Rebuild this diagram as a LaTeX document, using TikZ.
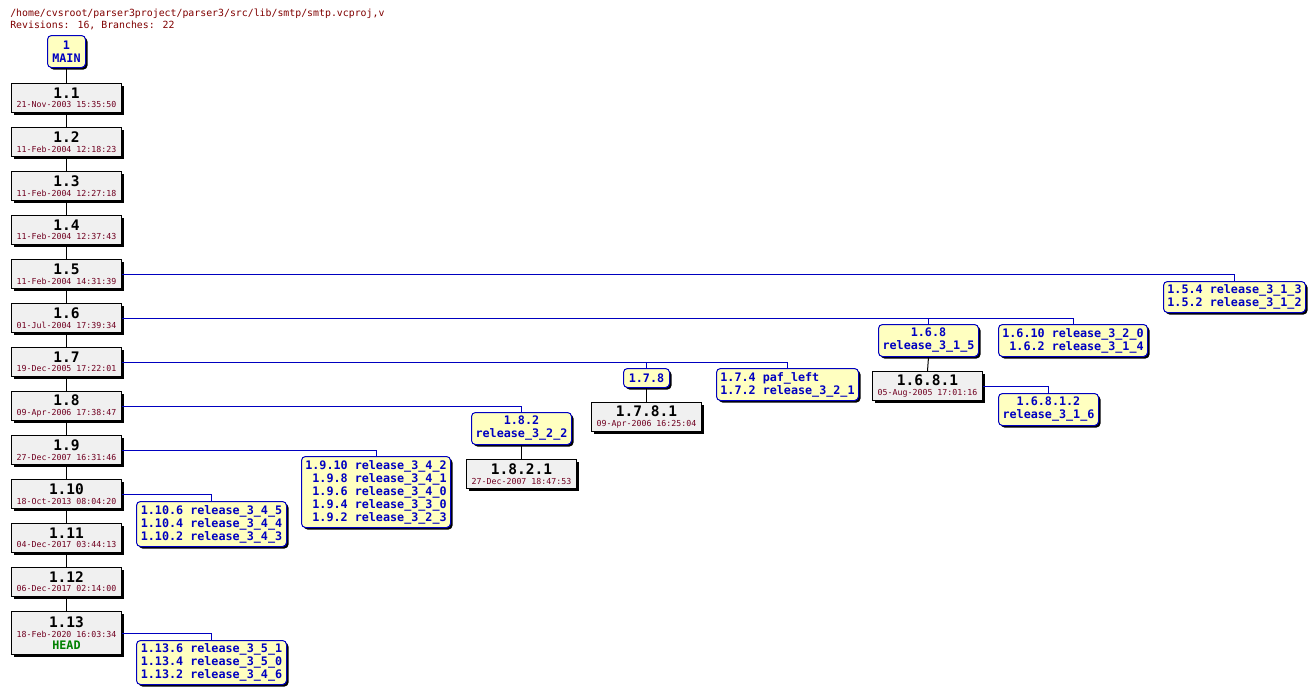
\documentclass[tikz,border=0pt]{standalone}
\usepackage{fontspec}
\setmonofont{DejaVu Sans Mono}
\usetikzlibrary{shadows}
\definecolor{revfill}{HTML}{F0F0F0}
\definecolor{tagfill}{HTML}{FFFFC0}
\definecolor{tagblue}{HTML}{0000C0}
\definecolor{datecol}{HTML}{700020}
\definecolor{titlecol}{HTML}{800000}
\definecolor{headgreen}{HTML}{008000}
\newfontfamily\dvmono{DejaVu Sans Mono}
\newfontfamily\dvmonob{DejaVu Sans Mono Bold}
\newcommand\numf{\dvmonob\fontsize{10.9}{12}\selectfont}
\newcommand\datef{\dvmono\fontsize{6.2}{7}\selectfont}
\newcommand\tagf{\dvmonob\fontsize{8.8}{9.75}\selectfont}
\newcommand\titf{\dvmono\fontsize{7.4}{9}\selectfont}
\newcommand\revtxt[2]{\vbox{\offinterlineskip\halign{\hfil##\hfil\cr{\numf #1}\cr\noalign{\kern2.3pt}{\datef\color{datecol}#2}\cr}}}
\newcommand\headtxt[2]{\vbox{\offinterlineskip\halign{\hfil##\hfil\cr{\numf #1}\cr\noalign{\kern2.3pt}{\datef\color{datecol}#2}\cr\noalign{\kern2.6pt}{\tagf\color{headgreen}HEAD}\cr}}}
\tikzset{
  shad/.style={drop shadow={shadow xshift=1.5pt,shadow yshift=-1.5pt,fill=black,opacity=1}},
  rev/.style={draw=black,line width=0.75pt,fill=revfill,inner sep=0pt,anchor=north west,
    minimum width=82.5pt,minimum height=21.75pt,shad},
  tag/.style={draw=tagblue,line width=0.75pt,fill=tagfill,rounded corners=3pt,inner sep=0pt,
    anchor=north west,font=\tagf,text=tagblue,shad},
  trunk/.style={draw=black,line width=0.75pt},
  br/.style={draw=tagblue,line width=0.75pt},
  tit/.style={anchor=base west,inner sep=0pt,font=\titf,text=titlecol}
}
\begin{document}
\begin{tikzpicture}[x=0.75pt,y=-0.75pt]
\fill[white] (0,0) rectangle (1315,694);
\useasboundingbox (0,0) rectangle (1315,694);
\node[tit] (t1) at (10,16.5) {/home/cvsroot/parser3project/parser3/src/lib/smtp/smtp.vcproj,v};
\node[tit] (t2) at (10,28.5) {Revisions: 16, Branches: 22};
\node[tag,align=center,minimum width=28.5pt,minimum height=24pt] (main) at (47,35) {1\\MAIN};
\node[rev] (r1) at (11,83) {\revtxt{1.1}{21-Nov-2003 15:35:50}};
\node[rev] (r2) at (11,127) {\revtxt{1.2}{11-Feb-2004 12:18:23}};
\node[rev] (r3) at (11,171) {\revtxt{1.3}{11-Feb-2004 12:27:18}};
\node[rev] (r4) at (11,215) {\revtxt{1.4}{11-Feb-2004 12:37:43}};
\node[rev] (r5) at (11,259) {\revtxt{1.5}{11-Feb-2004 14:31:39}};
\node[rev] (r6) at (11,303) {\revtxt{1.6}{01-Jul-2004 17:39:34}};
\node[rev] (r7) at (11,347) {\revtxt{1.7}{19-Dec-2005 17:22:01}};
\node[rev] (r8) at (11,391) {\revtxt{1.8}{09-Apr-2006 17:38:47}};
\node[rev] (r9) at (11,435) {\revtxt{1.9}{27-Dec-2007 16:31:46}};
\node[rev] (r10) at (11,479) {\revtxt{1.10}{18-Oct-2013 08:04:20}};
\node[rev] (r11) at (11,523) {\revtxt{1.11}{04-Dec-2017 03:44:13}};
\node[rev] (r12) at (11,567) {\revtxt{1.12}{06-Dec-2017 02:14:00}};
\node[rev,minimum height=32.25pt] (r13) at (11,611) {\headtxt{1.13}{18-Feb-2020 16:03:34}};
% branch tags
\node[tag,align=center,minimum width=106.5pt,minimum height=23.25pt] (t154) at (1163,281) {1.5.4 release\_3\_1\_3\\1.5.2 release\_3\_1\_2};
\node[tag,align=center,minimum width=75pt,minimum height=24pt] (t168) at (878,324) {1.6.8\\release\_3\_1\_5};
\node[tag,align=right,minimum width=111.75pt,minimum height=24pt] (t1610) at (998,324) {1.6.10 release\_3\_2\_0\\1.6.2 release\_3\_1\_4};
\node[rev] (r1681) at (872,371) {\revtxt{1.6.8.1}{05-Aug-2005 17:01:16}};
\node[tag,align=center,minimum width=75pt,minimum height=24pt] (t16812) at (998,393) {1.6.8.1.2\\release\_3\_1\_6};
\node[tag,minimum width=34.5pt,minimum height=14.25pt] (t178) at (623,368) {1.7.8};
\node[tag,align=left,minimum width=106.5pt,minimum height=24pt] (t174) at (716,368) {1.7.4 paf\_left\\1.7.2 release\_3\_2\_1};
\node[rev] (r1781) at (591,402) {\revtxt{1.7.8.1}{09-Apr-2006 16:25:04}};
\node[tag,align=center,minimum width=75pt,minimum height=24pt] (t182) at (471,412) {1.8.2\\release\_3\_2\_2};
\node[rev] (r1821) at (466,459) {\revtxt{1.8.2.1}{27-Dec-2007 18:47:53}};
\node[tag,align=right,minimum width=111.75pt,minimum height=53.25pt] (t19) at (301,456) {1.9.10 release\_3\_4\_2\\1.9.8 release\_3\_4\_1\\1.9.6 release\_3\_4\_0\\1.9.4 release\_3\_3\_0\\1.9.2 release\_3\_2\_3};
\node[tag,align=center,minimum width=112.5pt,minimum height=33.75pt] (t110) at (136,501) {1.10.6 release\_3\_4\_5\\1.10.4 release\_3\_4\_4\\1.10.2 release\_3\_4\_3};
\node[tag,align=center,minimum width=112.5pt,minimum height=33pt] (t113) at (136,640) {1.13.6 release\_3\_5\_1\\1.13.4 release\_3\_5\_0\\1.13.2 release\_3\_4\_6};
% trunk
\draw[trunk] (main.south) -- (r1.north);
\foreach \a/\b in {1/2,2/3,3/4,4/5,5/6,6/7,7/8,8/9,9/10,10/11,11/12,12/13}
  \draw[trunk] (r\a.south) -- (r\b.north);
\draw[trunk] (t168.south) -- (r1681.north);
\draw[trunk] (t178.south) -- (r1781.north);
\draw[trunk] (t182.south) -- (r1821.north);
% branches
\draw[br] (r5.east) -| (t154.north);
\draw[br] (r6.east) -| (t1610.north);
\draw[br] (r6.east) -| (t168.north);
\draw[br] (r1681.east) -| (t16812.north);
\draw[br] (r7.east) -| (t174.north);
\draw[br] (r7.east) -| (t178.north);
\draw[br] (r8.east) -| (t182.north);
\draw[br] (r9.east) -| (t19.north);
\draw[br] (r10.east) -| (t110.north);
\draw[br] (r13.east) -| (t113.north);
\end{tikzpicture}
\end{document}
